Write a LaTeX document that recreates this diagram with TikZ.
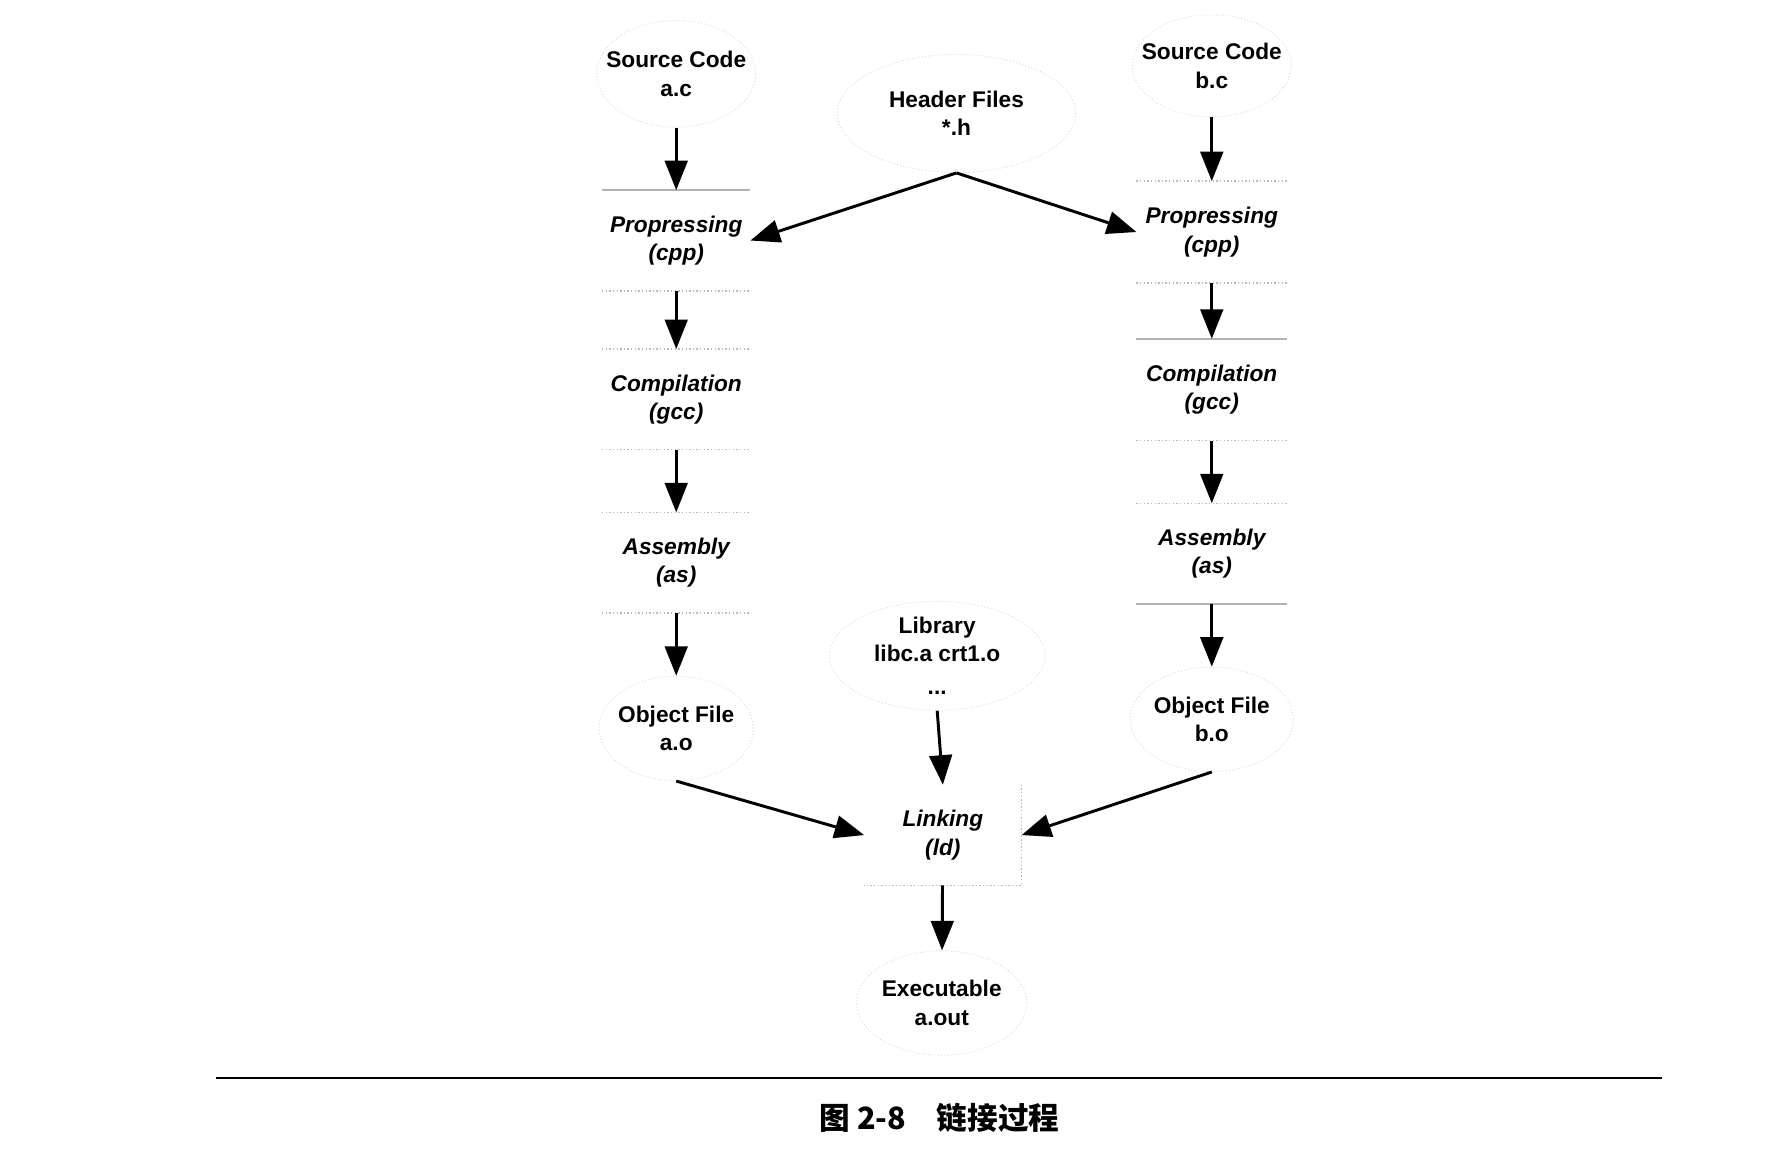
\documentclass[tikz,border=0pt]{standalone}
\usepackage{fontspec}
\setmainfont{Liberation Sans}
\newfontfamily\cjk{Noto Sans CJK SC}
\usetikzlibrary{arrows.meta}
\begin{document}
\begin{tikzpicture}[x=0.5pt,y=-0.5pt,
  lbl/.style={align=center,font=\fontsize{10}{12.5}\selectfont\bfseries,inner sep=0pt,rectangle},
  proc/.style={lbl,font=\fontsize{10}{12.5}\selectfont\bfseries\itshape,minimum height=44pt},
  ellline/.style={draw=gray!30,densely dotted,line width=0.4pt},
  rim/.style={draw=gray!55,densely dotted,line width=0.6pt},
  rimsolid/.style={draw=gray!60,line width=0.7pt},
  arr/.style={-{Triangle[length=13pt,width=10pt]},line width=1.3pt,black},
  rule/.style={line width=0.8pt,black}]
\fill[white] (0,0) rectangle (1560,1026);
\useasboundingbox (0,0) rectangle (1560,1026);

% left column
\node[lbl,minimum width=70pt,minimum height=47pt] (ac) at (596,65) {Source Code\\a.c};
\node[proc,minimum width=65pt] (pa) at (596,212) {Propressing\\(cpp)};
\node[proc,minimum width=65pt] (ca) at (596,352) {Compilation\\(gcc)};
\node[proc,minimum width=65pt] (sa) at (596,496) {Assembly\\(as)};
\node[lbl,minimum width=68pt,minimum height=46pt] (ao) at (596,642) {Object File\\a.o};

% middle
\node[lbl,minimum width=105pt,minimum height=52pt] (hdr) at (843,100) {Header Files\\*.h};
\coordinate (hb) at (hdr.south);
\node[lbl,minimum width=95pt,minimum height=48pt] (lib) at (826,578) {Library\\libc.a crt1.o\\[2pt]...};
\node[proc,minimum width=69pt] (lk) at (831,736) {Linking\\(ld)};
\node[lbl,minimum width=75pt,minimum height=46pt] (ex) at (830,884) {Executable\\a.out};

% right column
\node[lbl,minimum width=70pt,minimum height=45pt] (bc) at (1068,58) {Source Code\\b.c};
\node[proc,minimum width=66pt,minimum height=44.5pt] (pb) at (1068,204.5) {Propressing\\(cpp)};
\node[proc,minimum width=66pt,minimum height=44.5pt] (cb) at (1068,343.5) {Compilation\\(gcc)};
\node[proc,minimum width=66pt] (sb) at (1068,488) {Assembly\\(as)};
\node[lbl,minimum width=72pt,minimum height=46pt] (bo) at (1068,634) {Object File\\b.o};

% faint outlines
\draw[ellline] (ac.center) ellipse [x radius=35pt,y radius=23.5pt];
\draw[ellline] (ao.center) ellipse [x radius=34pt,y radius=23pt];
\draw[ellline] (hdr.center) ellipse [x radius=52.5pt,y radius=26pt];
\draw[ellline] (lib.center) ellipse [x radius=47.5pt,y radius=24pt];
\draw[ellline] (ex.center) ellipse [x radius=37.5pt,y radius=23pt];
\draw[ellline] (bc.center) ellipse [x radius=35pt,y radius=22.5pt];
\draw[ellline] (bo.center) ellipse [x radius=36pt,y radius=23pt];

\draw[rimsolid] (pa.north west) -- (pa.north east);
\draw[rim] (pa.south west) -- (pa.south east);
\draw[rim] (ca.north west) -- (ca.north east);
\draw[rim] (ca.south west) -- (ca.south east);
\draw[rim] (sa.north west) -- (sa.north east);
\draw[rim] (sa.south west) -- (sa.south east);
\draw[rim] (pb.north west) -- (pb.north east);
\draw[rim] (pb.south west) -- (pb.south east);
\draw[rimsolid] (cb.north west) -- (cb.north east);
\draw[rim] (cb.south west) -- (cb.south east);
\draw[rim] (sb.north west) -- (sb.north east);
\draw[rimsolid] (sb.south west) -- (sb.south east);
\draw[rim] (lk.north east) -- (lk.south east) -- (lk.south west);

% connectors
\draw[arr] (ac) -- (pa);
\draw[arr] (pa) -- (ca);
\draw[arr] (ca) -- (sa);
\draw[arr] (sa) -- (ao);
\draw[arr] (bc) -- (pb);
\draw[arr] (pb) -- (cb);
\draw[arr] (cb) -- (sb);
\draw[arr] (sb) -- (bo);
\draw[arr] (hb) -- (pa.east);
\draw[arr] (hb) -- (pb.west);
\draw[arr] (ao.south) -- (lk.west);
\draw[arr] (bo.south) -- (lk.east);
\draw[arr] (lib.south) -- (lk.north);
\draw[arr] (lk) -- (ex);

% caption
\coordinate (rl) at (190,950);
\coordinate (rr) at (1465,950);
\draw[rule] (rl) -- (rr);
\node[font=\cjk\bfseries\fontsize{13.5}{15}\selectfont,inner sep=0pt] (cap) at (828,985) {图 2-8\hspace{1em}链接过程};
\end{tikzpicture}
\end{document}
